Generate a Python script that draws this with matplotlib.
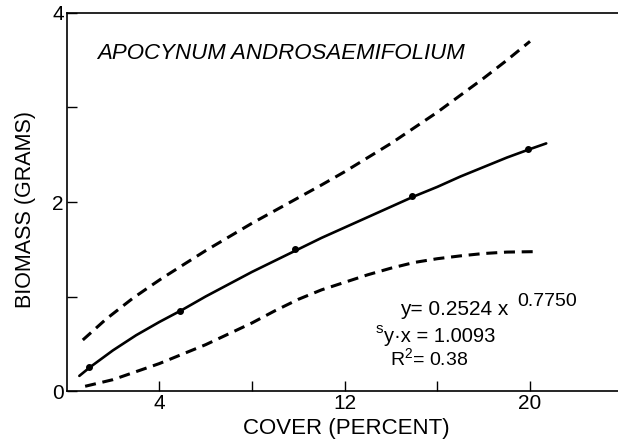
import matplotlib
matplotlib.use("Agg")
import matplotlib.pyplot as plt

plt.rcParams['font.family'] = ['Liberation Sans', 'DejaVu Sans']
plt.rcParams['mathtext.fontset'] = 'custom'
plt.rcParams['mathtext.rm'] = 'Liberation Sans'
plt.rcParams['mathtext.default'] = 'regular'

# observed means
pts_x = [0.95, 4.9, 9.85, 14.9, 19.9]
pts_y = [0.25, 0.85, 1.50, 2.06, 2.56]

# fitted curve
fit_x = [0.55, 1.0, 2.0, 3.0, 4.0, 5.0, 6.0, 7.0, 8.0, 9.0, 10.0, 11.0, 12.0, 13.0, 14.0, 15.0, 16.0, 17.0, 18.0, 19.0, 20.0, 20.7]
fit_y = [0.16, 0.25, 0.43, 0.59, 0.73, 0.86, 1.00, 1.13, 1.26, 1.38, 1.50, 1.62, 1.73, 1.84, 1.95, 2.06, 2.16, 2.27, 2.37, 2.47, 2.56, 2.62]

# upper confidence band
up_x = [0.7, 1.2, 1.7, 2.3, 2.85, 3.5, 4.1, 5.0, 6.0, 7.0, 8.0, 9.0, 10.0, 11.0, 12.0, 13.0, 14.0, 15.0, 16.0, 17.0, 18.0, 19.0, 20.0]
up_y = [0.54, 0.65, 0.76, 0.875, 0.98, 1.09, 1.19, 1.33, 1.485, 1.63, 1.775, 1.91, 2.045, 2.18, 2.32, 2.47, 2.62, 2.785, 2.95, 3.13, 3.31, 3.50, 3.70]

# lower confidence band
lo_x = [0.8, 1.4, 2.0, 3.0, 4.0, 5.0, 6.0, 7.0, 8.0, 9.0, 10.0, 11.0, 12.0, 13.0, 14.0, 15.0, 16.0, 17.0, 18.0, 19.0, 20.3]
lo_y = [0.05, 0.085, 0.12, 0.205, 0.29, 0.39, 0.49, 0.605, 0.72, 0.85, 0.97, 1.07, 1.15, 1.23, 1.30, 1.36, 1.40, 1.43, 1.455, 1.47, 1.475]

x_ticks = [4, 8, 12, 16, 20]
x_labels = ['4', '', '12', '', '20']
y_ticks = [0, 1, 2, 3, 4]
y_labels = ['0', '', '2', '', '4']

fig = plt.figure(figsize=(6.18, 4.44), dpi=100)
ax = fig.add_axes([66.6 / 618, 1 - 391 / 444, 1 - 66.6 / 618, 378 / 444])
ax.set_xlim(0, (618 - 66.6) / 23.17)
ax.set_ylim(0, 4)

ax.plot(fit_x, fit_y, color='black', lw=1.9, solid_capstyle='round')
ax.plot(up_x, up_y, color='black', lw=2.2, linestyle=(0, (3.6, 2.2)), dash_capstyle='butt')
ax.plot(lo_x, lo_y, color='black', lw=2.2, linestyle=(0, (3.6, 2.2)), dash_capstyle='butt')
ax.plot(pts_x, pts_y, 'o', color='black', markersize=4)

ax.spines['right'].set_visible(False)
for s in ['left', 'top', 'bottom']:
    ax.spines[s].set_linewidth(1.2)

ax.set_xticks(x_ticks)
ax.set_xticklabels(x_labels)
ax.set_yticks(y_ticks)
ax.set_yticklabels(y_labels)
ax.tick_params(direction='in', length=7, width=1.0, labelsize=15, pad=2)

ax.text((346 - 66.6) / 551.4, (391 - 428) / 378, 'COVER (PERCENT)', transform=ax.transAxes,
        ha='center', va='center', fontsize=16)
ax.text(-0.0754, 0.479, 'BIOMASS (GRAMS)', transform=ax.transAxes,
        ha='center', va='center', rotation=90, fontsize=15.5)

ax.text(1.31, 3.57, 'APOCYNUM ANDROSAEMIFOLIUM', ha='left', va='center',
        fontsize=16, style='italic')

ax.text(14.4, 0.86, 'y= 0.2524 x', ha='left', va='center', fontsize=15)
ax.text(19.45, 0.95, '0.7750', ha='left', va='center', fontsize=14)
ax.text(13.33, 0.655, 's', ha='left', va='center', fontsize=11)
ax.text(13.72, 0.575, 'y·x = 1.0093', ha='left', va='center', fontsize=14.5)
ax.text(13.95, 0.35, 'R$^{2}$= 0.38', ha='left', va='center', fontsize=14)

fig.savefig('out.png', dpi=100)
